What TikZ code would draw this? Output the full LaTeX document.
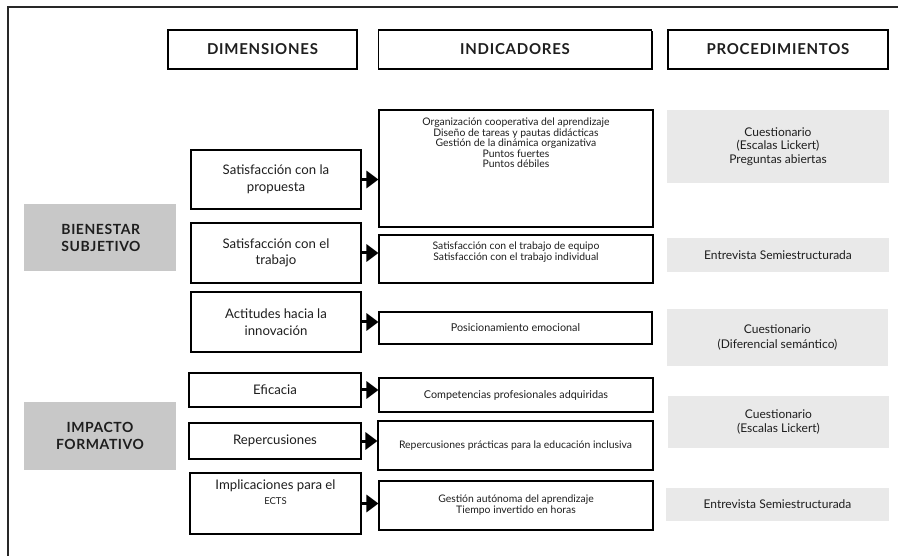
\documentclass[tikz,border=0pt]{standalone}
\usepackage{fontspec}
\setmainfont{Lato}
\usetikzlibrary{arrows.meta,shadows}
\definecolor{darkgrey}{RGB}{200,200,200}
\definecolor{lightgrey}{RGB}{233,233,233}
\definecolor{frame}{RGB}{40,40,40}
\definecolor{ink}{RGB}{30,30,30}
\tikzset{
  box/.style={draw=black, line width=1.1pt, fill=white, inner sep=2pt, align=center, text=ink,
    drop shadow={shadow xshift=1pt, shadow yshift=-1pt, fill=black, opacity=1}},
  headbox/.style={box, font=\fontsize{15}{17}\selectfont\bfseries\addfontfeatures{LetterSpace=5}},
  dimbox/.style={box, font=\fontsize{13.2}{16.5}\selectfont},
  indbox/.style={box, font=\fontsize{10.4}{11}\selectfont},
  txt/.style={inner sep=0pt, align=center, text=ink},
  catbox/.style={fill=darkgrey, inner sep=2pt, text=ink, font=\fontsize{14}{16.7}\selectfont\bfseries\addfontfeatures{LetterSpace=4}},
  procbox/.style={fill=lightgrey, inner sep=2pt, align=center, text=ink, font=\fontsize{12}{14.5}\selectfont},
  arr/.style={line width=3pt, -{Triangle[length=12pt,width=17pt]}, shorten >=0pt},
}
\begin{document}
\begin{tikzpicture}[x=1pt,y=-1pt]
\useasboundingbox (0,0) rectangle (898,556);
% frame
\coordinate (fbl) at (8,556);
\coordinate (ftl) at (8,7);
\coordinate (ftr) at (898,7);
\draw[frame, line width=2pt] (fbl) -- (ftl) -- (ftr);
% headers
\node[headbox, minimum width=189pt, minimum height=39pt] (h1) at (262.5,49.5) {DIMENSIONES};
\node[headbox, minimum width=273pt, minimum height=39pt] (h2) at (515,49.5) {INDICADORES};
\node[headbox, minimum width=220pt, minimum height=39pt] (h3) at (778,49.5) {PROCEDIMIENTOS};
% categories
\node[catbox, minimum width=152pt, minimum height=67pt] (g1) at (100,237.5) {};
\node[catbox, fill=none, inner sep=0pt, align=left] (g1t) at (101,238) {BIENESTAR\\SUBJETIVO};
\node[catbox, minimum width=152pt, minimum height=68pt, align=center] (g2) at (100,436) {IMPACTO\\FORMATIVO};
% dimensions
\node[dimbox, minimum width=170pt, minimum height=59pt] (d1) at (276,179.5) {Satisfacción con la\\propuesta};
\node[dimbox, minimum width=170pt, minimum height=60pt] (d2) at (276,253) {Satisfacción con el\\trabajo};
\node[dimbox, minimum width=170pt, minimum height=60pt] (d3) at (276,322) {Actitudes hacia la\\innovación};
\node[dimbox, minimum width=172pt, minimum height=34pt] (d4) at (275,390) {Eficacia};
\node[dimbox, minimum width=172pt, minimum height=36pt] (d5) at (275,441) {Repercusiones};
\node[dimbox, minimum width=171pt, minimum height=61pt] (d6) at (275.5,503.5) {};
\node[txt, font=\fontsize{13.2}{15.5}\selectfont] (d6t) at (275.5,492) {Implicaciones para el\\{\fontsize{9.5}{10}\selectfont ECTS}};
% indicators
\node[indbox, minimum width=274pt, minimum height=117pt] (i1) at (516,168.5) {};
\node[txt, font=\fontsize{10.4}{10.4}\selectfont] (i1t) at (516,143) {Organización cooperativa del aprendizaje\\Diseño de tareas y pautas didácticas\\Gestión de la dinámica organizativa\\Puntos fuertes\\Puntos débiles};
\node[indbox, minimum width=274pt, minimum height=48pt] (i2) at (516,259) {};
\node[txt, font=\fontsize{10.4}{11}\selectfont] (i2t) at (516,252.5) {Satisfacción con el trabajo de equipo\\Satisfacción con el trabajo individual};
\node[indbox, minimum width=273pt, minimum height=32pt, font=\fontsize{10.8}{12}\selectfont] (i3) at (515.5,328) {Posicionamiento emocional};
\node[indbox, minimum width=274pt, minimum height=34pt, font=\fontsize{10.8}{12}\selectfont] (i4) at (516,395) {Competencias profesionales adquiridas};
\node[indbox, minimum width=275pt, minimum height=49pt] (i5) at (515.5,445.5) {Repercusiones prácticas para la educación inclusiva};
\node[indbox, minimum width=274pt, minimum height=49pt] (i6) at (516,505.5) {Gestión autónoma del aprendizaje\\Tiempo invertido en horas};
% procedures
\node[procbox, minimum width=222pt, minimum height=73pt, font=\fontsize{12}{13.5}\selectfont] (p1) at (778,146.5) {Cuestionario\\(Escalas Lickert)\\Preguntas abiertas};
\node[procbox, minimum width=222pt, minimum height=34pt] (p2) at (778,255) {Entrevista Semiestructurada};
\node[procbox, minimum width=221pt, minimum height=57pt] (p3) at (777.5,337.5) {Cuestionario\\(Diferencial semántico)};
\node[procbox, minimum width=221pt, minimum height=52pt] (p4) at (778.5,422) {Cuestionario\\(Escalas Lickert)};
\node[procbox, minimum width=223pt, minimum height=33pt] (p5) at (777.5,504.5) {Entrevista Semiestructurada};
% arrows
\draw[arr] (d1.east) -- (d1.east -| i1.west);
\draw[arr] (d2.east) -- (d2.east -| i2.west);
\draw[arr] (d3.east) -- (d3.east -| i3.west);
\draw[arr] (d4.east) -- (d4.east -| i4.west);
\draw[arr] (d5.east) -- (d5.east -| i5.west);
\draw[arr] (d6.east) -- (d6.east -| i6.west);
\end{tikzpicture}
\end{document}
